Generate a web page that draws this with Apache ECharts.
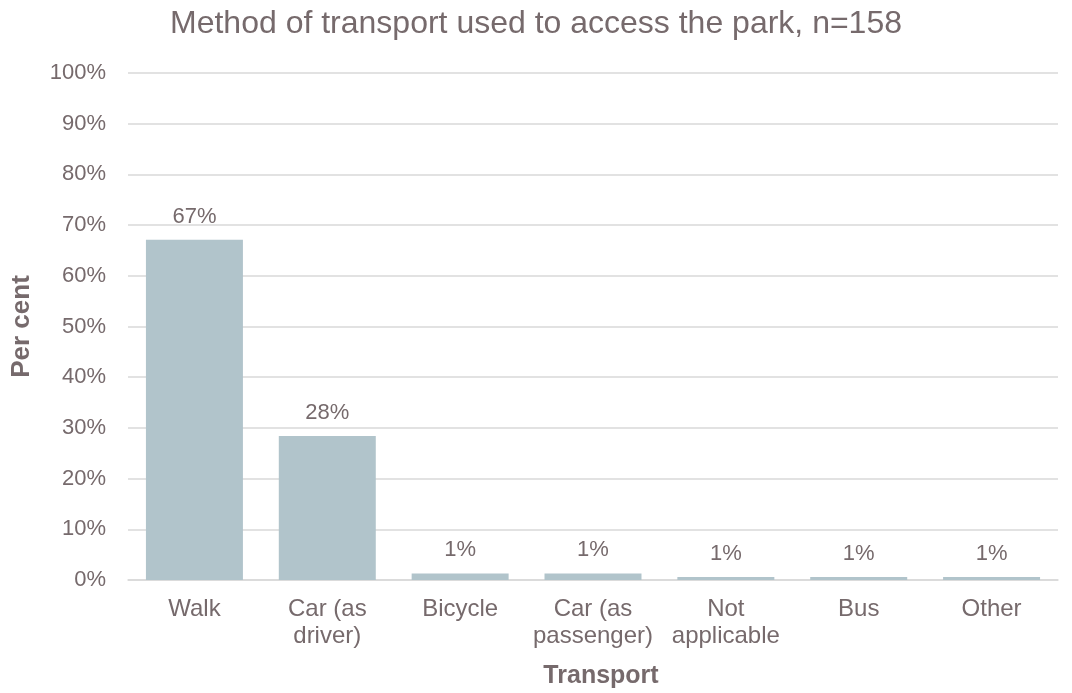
<!DOCTYPE html>
<html>
<head>
<meta charset="utf-8">
<script src="https://cdn.jsdelivr.net/npm/echarts@6/dist/echarts.min.js"></script>
<style>
  html, body { margin: 0; padding: 0; background: #ffffff; }
  #chart { width: 1072px; height: 693px; }
</style>
</head>
<body>
<div id="chart"></div>
<script>
// Survey responses: method of transport used to reach the park (n = 158)
const categories = ['Walk', 'Car (as\ndriver)', 'Bicycle', 'Car (as\npassenger)', 'Not\napplicable', 'Bus', 'Other'];
const percentages = [67.1, 28.4, 1.3, 1.3, 0.6, 0.6, 0.6];
const yTicks = [0, 10, 20, 30, 40, 50, 60, 70, 80, 90, 100];

const textColor = '#766a6c';
const font = 'Arial, "Liberation Sans", sans-serif';

const chart = echarts.init(document.getElementById('chart'), null, { renderer: 'canvas' });
chart.setOption({
  animation: false,
  title: {
    text: 'Method of transport used to access the park, n=158',
    left: 'center',
    top: 3,
    textStyle: { color: textColor, fontSize: 32, fontWeight: 'normal', fontFamily: font }
  },
  grid: { left: 128, right: 14, top: 73, bottom: 113, outerBoundsMode: 'none', containLabel: false },
  xAxis: {
    type: 'category',
    data: categories,
    name: 'Transport',
    nameLocation: 'middle',
    nameGap: 84,
    nameTextStyle: { color: textColor, fontSize: 25, fontWeight: 'bold', fontFamily: font, padding: [0, 0, 0, 16] },
    axisLine: { lineStyle: { color: '#d9d9d9', width: 1.5 } },
    axisTick: { show: false },
    axisLabel: { color: textColor, fontSize: 24, fontFamily: font, lineHeight: 27, margin: 16, interval: 0 }
  },
  yAxis: {
    type: 'value',
    min: yTicks[0],
    max: yTicks[yTicks.length - 1],
    interval: 10,
    name: 'Per cent',
    nameLocation: 'middle',
    nameGap: 93,
    nameRotate: 90,
    nameTextStyle: { color: textColor, fontSize: 26, fontWeight: 'bold', fontFamily: font },
    axisLine: { show: false },
    axisTick: { show: false },
    splitLine: { lineStyle: { color: '#d9d9d9', width: 1.5 } },
    axisLabel: { color: textColor, fontSize: 22, fontFamily: font, margin: 22, formatter: v => v + '%' }
  },
  series: [{
    type: 'bar',
    data: percentages,
    barCategoryGap: '27%',
    itemStyle: { color: '#b1c4cb' },
    label: {
      show: true,
      position: 'top',
      distance: 12,
      color: textColor,
      fontSize: 22,
      fontFamily: font,
      formatter: p => Math.round(p.value) + '%'
    }
  }]
});
</script>
</body>
</html>
